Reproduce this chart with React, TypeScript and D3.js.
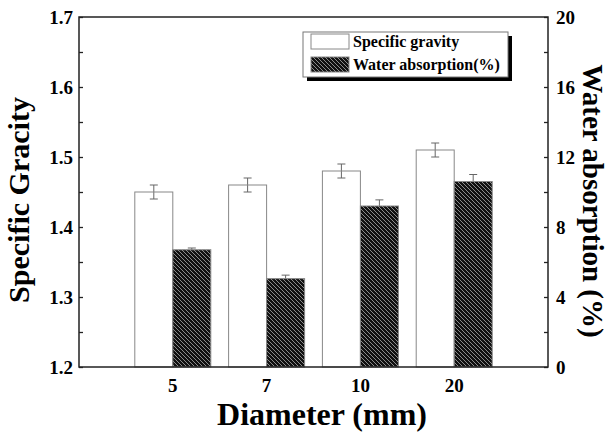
import { useEffect, useRef } from 'react';
import * as d3 from 'd3';

// diameters (mm)
const categories = ['5', '7', '10', '20'];
// specific gravity (left axis) and its error
const gravity = [1.45, 1.46, 1.48, 1.51];
const gravityErr = [0.01, 0.01, 0.01, 0.01];
// water absorption % (right axis) and its error
const absorption = [6.7, 5.05, 9.2, 10.6];
const absorptionErr = [0.1, 0.2, 0.35, 0.4];

const leftTicks = [1.2, 1.3, 1.4, 1.5, 1.6, 1.7];
const rightTicks = [0, 4, 8, 12, 16, 20];

const FONT = '"Liberation Serif", "Times New Roman", serif';

const App = () => {
  const ref = useRef<SVGSVGElement>(null);

  useEffect(() => {
    const svg = d3.select(ref.current);
    svg.selectAll('*').remove();

    const left = 79, right = 548, top = 17, bottom = 367;
    const barW = 38;

    const x = d3.scalePoint<string>().domain(categories).range([left, right]).padding(1);
    const yL = d3.scaleLinear().domain([1.2, 1.7]).range([bottom, top]);
    const yR = d3.scaleLinear().domain([0, 20]).range([bottom, top]);

    // hatch pattern
    const defs = svg.append('defs');
    const pat = defs.append('pattern')
      .attr('id', 'hatch')
      .attr('patternUnits', 'userSpaceOnUse')
      .attr('width', 4)
      .attr('height', 4);
    pat.append('rect').attr('width', 4).attr('height', 4).attr('fill', '#111');
    pat.append('path')
      .attr('d', 'M-1,-1L5,5M-1,3L1,5M3,-1L5,1')
      .attr('stroke', '#9a9a9a')
      .attr('stroke-width', 0.9);

    const errColor = '#666';
    const drawErr = (cx: number, y0: number, y1: number) => {
      svg.append('line').attr('x1', cx).attr('x2', cx).attr('y1', y0).attr('y2', y1)
        .attr('stroke', errColor).attr('stroke-width', 1);
      [y0, y1].forEach(yy => {
        svg.append('line').attr('x1', cx - 4).attr('x2', cx + 4).attr('y1', yy).attr('y2', yy)
          .attr('stroke', errColor).attr('stroke-width', 1);
      });
    };

    // error bars first, bars over them
    categories.forEach((c, i) => {
      const cx = x(c)!;
      drawErr(cx - barW / 2, yL(gravity[i] + gravityErr[i]), yL(gravity[i] - gravityErr[i]));
      drawErr(cx + barW / 2, yR(absorption[i] + absorptionErr[i]), yR(absorption[i] - absorptionErr[i]));
    });

    svg.selectAll('.sg')
      .data(gravity)
      .enter()
      .append('rect')
      .attr('x', (d, i) => x(categories[i])! - barW)
      .attr('y', d => yL(d))
      .attr('width', barW)
      .attr('height', d => bottom - yL(d))
      .attr('fill', 'none')
      .attr('stroke', '#888')
      .attr('stroke-width', 1);

    svg.selectAll('.wa')
      .data(absorption)
      .enter()
      .append('rect')
      .attr('x', (d, i) => x(categories[i])!)
      .attr('y', d => yR(d))
      .attr('width', barW)
      .attr('height', d => bottom - yR(d))
      .attr('fill', 'url(#hatch)')
      .attr('stroke', '#888')
      .attr('stroke-width', 1);

    // frame
    svg.append('rect')
      .attr('x', left).attr('y', top)
      .attr('width', right - left).attr('height', bottom - top)
      .attr('fill', 'none').attr('stroke', '#222').attr('stroke-width', 1.5);

    // left axis
    const gL = svg.append('g').attr('transform', `translate(${left},0)`);
    gL.call(
      d3.axisRight(yL).tickValues(d3.range(1.2, 1.7001, 0.05)).tickSize(4).tickFormat(() => '')
    );
    gL.select('.domain').remove();
    gL.selectAll('line').attr('stroke', '#222').attr('stroke-width', 1.3);
    leftTicks.forEach(t => {
      svg.append('text')
        .attr('x', left - 6).attr('y', yL(t)).attr('dy', '0.35em')
        .attr('text-anchor', 'end')
        .style('font-family', FONT).style('font-weight', 'bold').style('font-size', '19px')
        .text(t.toFixed(1));
    });

    // right axis
    const gR = svg.append('g').attr('transform', `translate(${right},0)`);
    gR.call(d3.axisLeft(yR).tickValues(d3.range(0, 21, 2)).tickSize(4).tickFormat(() => ''));
    gR.select('.domain').remove();
    gR.selectAll('line').attr('stroke', '#222').attr('stroke-width', 1.3);
    rightTicks.forEach(t => {
      svg.append('text')
        .attr('x', right + 8).attr('y', yR(t)).attr('dy', '0.35em')
        .style('font-family', FONT).style('font-weight', 'bold').style('font-size', '19px')
        .text(t);
    });

    // x labels
    categories.forEach(c => {
      svg.append('text')
        .attr('x', x(c)!).attr('y', 392)
        .attr('text-anchor', 'middle')
        .style('font-family', FONT).style('font-weight', 'bold').style('font-size', '19px')
        .text(c);
    });

    // axis titles
    svg.append('text')
      .attr('x', 322).attr('y', 425)
      .attr('text-anchor', 'middle')
      .style('font-family', FONT).style('font-weight', 'bold').style('font-size', '32px')
      .text('Diameter (mm)');

    svg.append('text')
      .attr('transform', 'translate(29,200) rotate(-90)')
      .attr('text-anchor', 'middle')
      .style('font-family', FONT).style('font-weight', 'bold').style('font-size', '30px')
      .text('Specific Gracity');

    svg.append('text')
      .attr('transform', 'translate(583,201) rotate(90)')
      .attr('text-anchor', 'middle')
      .style('font-family', FONT).style('font-weight', 'bold').style('font-size', '29px')
      .text('Water absorption (%)');

    // legend
    const lg = svg.append('g');
    lg.append('rect').attr('x', 307).attr('y', 36).attr('width', 205).attr('height', 45).attr('fill', '#000');
    lg.append('rect').attr('x', 303).attr('y', 32).attr('width', 205).attr('height', 45)
      .attr('fill', '#fff').attr('stroke', '#777').attr('stroke-width', 1);
    lg.append('rect').attr('x', 311).attr('y', 34).attr('width', 38).attr('height', 15)
      .attr('fill', '#fff').attr('stroke', '#888');
    lg.append('rect').attr('x', 311).attr('y', 57).attr('width', 38).attr('height', 15)
      .attr('fill', 'url(#hatch)').attr('stroke', '#888');
    lg.append('text').attr('x', 353).attr('y', 47)
      .style('font-family', FONT).style('font-weight', 'bold').style('font-size', '16px')
      .text('Specific gravity');
    lg.append('text').attr('x', 353).attr('y', 70)
      .style('font-family', FONT).style('font-weight', 'bold').style('font-size', '16px')
      .text('Water absorption(%)');
  }, []);

  return (
    <svg ref={ref} width={612} height={434} style={{ position: 'absolute', left: 0, top: 0, background: '#fff' }} />
  );
};

export default App;
